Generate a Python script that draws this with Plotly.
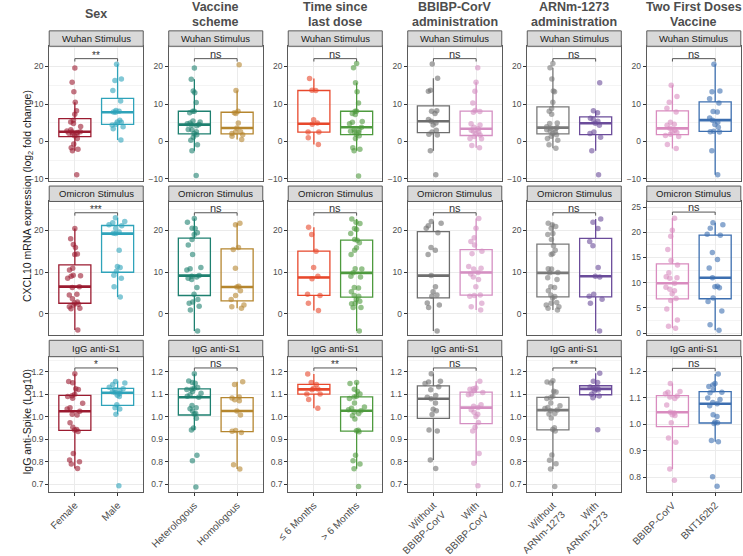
import numpy as np
import plotly.graph_objects as go

W, H = 743, 556

# ---------------- data ----------------
column_titles = [["Sex"], ["Vaccine", "scheme"], ["Time since", "last dose"],
                 ["BBIBP-CorV", "administration"], ["ARNm-1273", "administration"],
                 ["Two First Doses", "Vaccine"]]
group_labels = [["Female", "Male"], ["Heterologous", "Homologous"], ["≤ 6 Months", "> 6 Months"],
                ["Without<br>BBIBP-CorV", "With<br>BBIBP-CorV"],
                ["Without<br>ARNm-1273", "With<br>ARNm-1273"], ["BBIBP-CorV", "BNT162b2"]]
group_colors = [["#9B1B30", "#2FA3BA"], ["#1E8070", "#B5862F"], ["#E8482C", "#4E9A3E"],
                ["#6E6E6E", "#D48FC2"], ["#7A7A7A", "#6B4C9A"], ["#D98CBF", "#3D6FB0"]]
strip_labels = ["Wuhan Stimulus", "Omicron Stimulus", "IgG anti-S1"]
signif = [["**", "***", "*"], ["ns", "ns", "ns"], ["ns", "ns", "**"],
          ["ns", "ns", "ns"], ["ns", "ns", "**"], ["ns", "ns", "ns"]]

# Sex
wuhan_female = [-8.9, -2.5, -2.1, -1.7, -0.7, 0.8, 1.5, 1.8, 2.0, 2.2, 2.4, 2.5, 2.6, 2.8, 3.1, 4.0, 4.8, 5.2, 5.7, 7.3, 8.2, 10.5, 13.3, 15.8, 19.6]
wuhan_male = [0.4, 3.4, 3.9, 4.4, 4.6, 5.1, 5.2, 5.7, 7.8, 7.9, 8.1, 8.3, 10.8, 13.6, 16.3, 16.7, 20.6]
omicron_female = [-3.9, 1.2, 1.3, 1.7, 2.1, 2.3, 2.6, 2.8, 3.6, 4.5, 4.7, 6.3, 6.5, 8.5, 9.0, 9.1, 9.2, 10.5, 10.9, 14.2, 14.3, 15.9, 16.6, 18.0, 20.4]
omicron_male = [4.0, 6.5, 8.5, 9.2, 10.2, 11.1, 11.3, 15.2, 19.2, 19.3, 19.6, 20.5, 21.1, 21.3, 21.8, 22.1, 23.0]
igg_female = [0.77, 0.79, 0.80, 0.807, 0.836, 0.934, 0.941, 0.943, 0.953, 0.973, 1.007, 1.01, 1.024, 1.034, 1.039, 1.059, 1.081, 1.089, 1.093, 1.099, 1.12, 1.124, 1.15, 1.156, 1.19]
igg_male = [0.693, 1.01, 1.034, 1.039, 1.053, 1.089, 1.095, 1.103, 1.106, 1.11, 1.115, 1.12, 1.124, 1.13, 1.143, 1.149, 1.156]

# Vaccine scheme
wuhan_hetero = [-9.1, -2.5, -0.9, 0.3, 1.1, 1.8, 2.1, 2.6, 3.1, 3.2, 4.2, 4.4, 4.5, 4.7, 4.9, 5.2, 5.5, 7.7, 8.05, 8.1, 10.4, 13.0, 13.5, 16.6, 19.6]
wuhan_homo = [0.5, 1.4, 1.8, 2.1, 2.5, 2.6, 3.6, 4.9, 7.5, 7.7, 8.1, 13.6, 20.5]
omicron_hetero = [-4.1, 0.9, 1.8, 2.5, 2.8, 3.4, 4.7, 6.3, 8.2, 8.5, 8.8, 9.0, 9.15, 10.5, 10.8, 11.1, 14.2, 16.5, 17.8, 19.0, 19.4, 20.4, 20.5, 21.9, 22.8]
omicron_homo = [1.3, 1.7, 2.1, 3.4, 4.4, 5.5, 6.4, 6.6, 10.9, 15.4, 15.9, 21.3, 21.7]
igg_hetero = [0.688, 0.804, 0.829, 0.941, 0.949, 0.993, 1.012, 1.014, 1.025, 1.035, 1.039, 1.049, 1.086, 1.09, 1.097, 1.104, 1.112, 1.12, 1.122, 1.126, 1.129, 1.148, 1.152, 1.158, 1.19]
igg_homo = [0.767, 0.786, 0.93, 0.935, 0.938, 1.007, 1.025, 1.07, 1.075, 1.083, 1.087, 1.143, 1.155]

# Time since last dose
wuhan_le6 = [-0.8, 1.0, 2.5, 2.5, 4.6, 4.9, 5.8, 13.6, 13.7, 16.8]
wuhan_gt6 = [-9.2, -2.5, -2.1, -1.7, 0.8, 1.5, 1.95, 2.4, 2.5, 2.7, 3.0, 3.2, 3.8, 4.7, 5.1, 5.3, 7.2, 7.5, 8.05, 8.1, 10.3, 13.3, 15.7, 19.7, 20.8]
omicron_le6 = [0.8, 2.5, 4.4, 4.7, 8.4, 9.0, 11.1, 15.0, 19.0, 20.7]
omicron_gt6 = [-4.1, 1.5, 1.5, 2.4, 2.5, 3.0, 3.4, 4.2, 4.4, 5.3, 6.2, 6.3, 8.8, 9.0, 9.8, 10.7, 10.8, 14.2, 15.2, 15.8, 17.0, 17.6, 17.8, 19.2, 20.2, 20.4, 21.6, 21.9, 22.7]
igg_le6 = [1.037, 1.076, 1.10, 1.10, 1.119, 1.123, 1.126, 1.143, 1.151, 1.189]
igg_gt6 = [0.69, 0.769, 0.79, 0.804, 0.829, 0.933, 0.937, 0.94, 0.99, 1.004, 1.014, 1.02, 1.026, 1.03, 1.037, 1.043, 1.061, 1.08, 1.087, 1.09, 1.10, 1.111, 1.121, 1.147, 1.151]

# BBIBP-CorV administration
wuhan_without_bbibp = [-8.9, -2.5, 1.7, 1.9, 2.5, 3.0, 4.4, 4.9, 5.4, 5.9, 7.5, 8.05, 8.2, 13.4, 13.7, 16.9, 20.7]
wuhan_with_bbibp = [-1.7, -1.1, 0.7, 0.8, 1.3, 1.7, 2.1, 2.5, 2.7, 3.0, 3.4, 3.8, 4.4, 4.7, 7.8, 8.0, 8.3, 10.3, 13.4, 15.8, 19.7]
omicron_without_bbibp = [-4.1, 1.5, 2.1, 2.6, 4.2, 4.5, 5.3, 6.5, 9.15, 14.2, 15.2, 15.9, 19.4, 20.5, 21.1, 21.7, 22.1]
omicron_with_bbibp = [0.9, 1.7, 2.5, 4.2, 4.4, 4.5, 6.5, 8.2, 8.8, 9.5, 9.9, 10.7, 10.9, 11.3, 14.4, 15.0, 16.5, 17.3, 18.2, 20.5, 22.8]
igg_without_bbibp = [0.77, 0.807, 0.936, 0.941, 1.009, 1.026, 1.033, 1.06, 1.079, 1.086, 1.094, 1.119, 1.133, 1.147, 1.154, 1.157, 1.19]
igg_with_bbibp = [0.693, 0.793, 0.836, 0.936, 0.953, 0.974, 1.0, 1.01, 1.019, 1.03, 1.04, 1.046, 1.053, 1.097, 1.10, 1.107, 1.115, 1.121, 1.124, 1.127, 1.157]

# ARNm-1273 administration
wuhan_without_arnm = [-1.8, -0.9, 0.3, 0.8, 1.4, 1.8, 2.1, 2.5, 2.8, 3.1, 3.3, 3.5, 3.7, 3.9, 4.8, 4.9, 7.3, 8.1, 8.8, 10.5, 13.3, 13.5, 16.7, 19.7, 20.8]
wuhan_with_arnm = [-8.9, -2.5, 1.1, 2.1, 2.5, 4.3, 4.85, 5.4, 5.9, 6.2, 7.7, 8.2, 15.7]
omicron_without_arnm = [0.9, 1.3, 1.7, 2.1, 2.5, 2.7, 3.8, 4.15, 4.5, 5.5, 6.3, 6.5, 8.2, 8.6, 9.8, 9.9, 10.7, 10.8, 14.2, 14.4, 15.2, 16.3, 17.8, 19.0, 19.2, 20.5, 20.9, 21.3, 21.7]
omicron_with_arnm = [-4.1, 2.5, 3.5, 4.2, 4.7, 8.8, 9.0, 11.1, 16.3, 17.3, 20.4, 21.9, 22.7]
igg_without_arnm = [0.69, 0.768, 0.791, 0.806, 0.83, 0.936, 0.943, 0.951, 0.994, 1.012, 1.014, 1.026, 1.029, 1.036, 1.041, 1.048, 1.06, 1.08, 1.084, 1.09, 1.109, 1.113, 1.149, 1.154, 1.159]
igg_with_arnm = [0.942, 1.084, 1.091, 1.099, 1.113, 1.118, 1.123, 1.125, 1.128, 1.132, 1.152, 1.157, 1.193]

# Two first doses vaccine
wuhan_bbibp = [-1.9, -0.8, 1.3, 1.6, 1.9, 2.4, 2.5, 3.0, 3.5, 4.3, 4.6, 5.1, 7.9, 8.9, 10.5, 12.0, 15.0]
wuhan_bnt = [-8.9, -2.5, 2.5, 2.6, 2.7, 3.8, 4.5, 5.1, 5.7, 6.3, 7.9, 8.0, 10.3, 11.4, 13.3, 13.5, 20.6]
omicron_bbibp = [1.0, 1.4, 2.6, 4.8, 6.5, 6.9, 7.8, 8.4, 8.7, 9.1, 9.9, 10.9, 11.0, 11.2, 12.0, 13.5, 14.4, 16.6, 19.2, 20.4, 22.8]
omicron_bnt = [0.6, 1.7, 4.4, 6.3, 7.0, 9.0, 9.2, 9.3, 11.0, 12.9, 14.6, 16.0, 19.4, 19.6, 20.8, 21.5, 21.9]
igg_bbibp = [0.789, 0.832, 0.933, 0.949, 1.006, 1.034, 1.037, 1.043, 1.046, 1.073, 1.098, 1.104, 1.107, 1.116, 1.122, 1.124, 1.155]
igg_bnt = [0.766, 0.802, 0.935, 0.939, 1.004, 1.006, 1.009, 1.03, 1.037, 1.071, 1.078, 1.083, 1.094, 1.10, 1.12, 1.122, 1.13, 1.143, 1.149, 1.155, 1.191]

# significance bracket heights (row, with special values for last column)
bracket_y = [22.1, 24.2, 1.216]
bracket_y_last = [22.1, 24.0, 1.212]

panels = [
    [(wuhan_female, wuhan_male), (omicron_female, omicron_male), (igg_female, igg_male)],
    [(wuhan_hetero, wuhan_homo), (omicron_hetero, omicron_homo), (igg_hetero, igg_homo)],
    [(wuhan_le6, wuhan_gt6), (omicron_le6, omicron_gt6), (igg_le6, igg_gt6)],
    [(wuhan_without_bbibp, wuhan_with_bbibp), (omicron_without_bbibp, omicron_with_bbibp), (igg_without_bbibp, igg_with_bbibp)],
    [(wuhan_without_arnm, wuhan_with_arnm), (omicron_without_arnm, omicron_with_arnm), (igg_without_arnm, igg_with_arnm)],
    [(wuhan_bbibp, wuhan_bnt), (omicron_bbibp, omicron_bnt), (igg_bbibp, igg_bnt)],
]

# ---------------- layout geometry ----------------
FONT = "Liberation Sans, Arial, sans-serif"
panel_left = [31 + 122.65 * c for c in range(6)]
panel_w = 96.5
row_top = [48, 209, 370]
row_bot = [188, 348, 510]
strip_top = [32, 193, 353]
BORDER = "#5a5a5a"
GRID = "#ebebeb"
MINOR = "#f4f4f4"
TXT = "#4d4d4d"


def py(p):
    return 1 - p / H


yrange_rows = [[-10.6, 25.4], [-5.2, 26.9], [0.667, 1.266]]
yrange_last = [[-10.6, 25.4], [-0.45, 26.1], [0.746, 1.256]]
dtick_rows = [10, 10, 0.1]
dtick_last = [10, 5, 0.1]
minor_rows = [5, 5, 0.05]
minor_last = [5, 2.5, 0.05]

fig = go.Figure()
layout = dict(width=W, height=H, margin=dict(l=0, r=0, t=0, b=0),
              paper_bgcolor="white", plot_bgcolor="white", showlegend=False,
              font=dict(family=FONT, color=TXT), boxmode="overlay")
shapes = []
annotations = []

BOX_W = 0.75
for r in range(3):
    for c in range(6):
        k = r * 6 + c + 1
        xa = "x" if k == 1 else f"x{k}"
        ya = "y" if k == 1 else f"y{k}"
        last = c == 5
        yr = yrange_last[r] if last else yrange_rows[r]
        for g in range(2):
            vals = panels[c][r][g]
            col = group_colors[c][g]
            fig.add_trace(go.Box(
                x=[g] * len(vals), y=vals, xaxis=xa, yaxis=ya, width=BOX_W,
                boxpoints="all", jitter=0.55, pointpos=0, whiskerwidth=0,
                quartilemethod="linear",
                fillcolor="rgba(255,255,255,0)",
                line=dict(color=col, width=1.3),
                marker=dict(color=col, size=5.5, opacity=0.6, line=dict(width=0)),
                hoverinfo="skip"))
            med = float(np.median(vals))
            shapes.append(dict(type="line", xref=xa, yref=ya, x0=g - BOX_W / 2, x1=g + BOX_W / 2,
                               y0=med, y1=med, line=dict(color=col, width=2.6), layer="between"))
        # significance bracket
        by = bracket_y_last[r] if last else bracket_y[r]
        drop = 3.0 / (row_bot[r] - row_top[r]) * (yr[1] - yr[0])
        fig.add_trace(go.Scatter(x=[0, 0, 1, 1], y=[by - drop, by, by, by - drop], xaxis=xa, yaxis=ya,
                                 mode="lines", line=dict(color="#555555", width=1), hoverinfo="skip"))
        lab = signif[c][r]
        annotations.append(dict(xref=xa, yref=ya, x=0.5, y=by, text=lab, showarrow=False,
                                yanchor="bottom", yshift=-3 if lab == "ns" else -4,
                                font=dict(size=11 if lab == "ns" else 10, color="#333333")))

        left = panel_left[c]
        xd = [left / W, (left + panel_w) / W]
        yd = [py(row_bot[r]), py(row_top[r])]
        xkey = "xaxis" if k == 1 else f"xaxis{k}"
        ykey = "yaxis" if k == 1 else f"yaxis{k}"
        layout[xkey] = dict(domain=xd, anchor=ya, range=[-0.6, 1.6], tickvals=[0, 1],
                            ticktext=group_labels[c], showticklabels=(r == 2),
                            ticks="outside" if r == 2 else "", ticklen=3, tickcolor="#333333",
                            tickangle=-45, tickfont=dict(size=10, color=TXT),
                            showgrid=True, gridcolor=GRID, gridwidth=1, zeroline=False,
                            showline=True, mirror=True, linecolor=BORDER, linewidth=1,
                            fixedrange=True)
        dt = dtick_last[r] if last else dtick_rows[r]
        mdt = minor_last[r] if last else minor_rows[r]
        layout[ykey] = dict(domain=yd, anchor=xa, range=yr, dtick=dt, tick0=0,
                            tickformat=".1f" if r == 2 else "d",
                            ticks="outside", ticklen=3, tickcolor="#333333",
                            tickfont=dict(size=8.5, color=TXT),
                            showgrid=True, gridcolor=GRID, gridwidth=1, zeroline=False,
                            minor=dict(dtick=mdt, tick0=0, showgrid=True, gridcolor=MINOR, gridwidth=0.7),
                            showline=True, mirror=True, linecolor=BORDER, linewidth=1,
                            fixedrange=True)
        # strip
        shapes.append(dict(type="rect", xref="paper", yref="paper", x0=xd[0], x1=xd[1],
                           y0=py(row_top[r]), y1=py(strip_top[r]), fillcolor="#d9d9d9",
                           line=dict(color=BORDER, width=1), layer="above"))
        annotations.append(dict(xref="paper", yref="paper", x=(xd[0] + xd[1]) / 2,
                                y=py((row_top[r] + strip_top[r]) / 2), text=strip_labels[r],
                                showarrow=False, xanchor="center", yanchor="middle",
                                font=dict(size=9.5, color="#1a1a1a")))

# column titles
for c in range(6):
    cx = (panel_left[c] + panel_w / 2) / W
    lines = column_titles[c]
    ys = [14.5] if len(lines) == 1 else [7.5, 22.5]
    for t, yy in zip(lines, ys):
        annotations.append(dict(xref="paper", yref="paper", x=cx, y=py(yy), text=t, showarrow=False,
                                xanchor="center", yanchor="middle",
                                font=dict(size=12.5, color="#4d4d4d", weight="bold")))

# y-axis titles
annotations.append(dict(xref="paper", yref="paper", x=8.5 / W, y=py(203),
                        text="CXCL10 mRNA expression (log<sub>2</sub> fold change)",
                        textangle=-90, showarrow=False, xanchor="center", yanchor="middle",
                        font=dict(size=10.5, color="#1a1a1a")))
annotations.append(dict(xref="paper", yref="paper", x=8.5 / W, y=py(437),
                        text="IgG anti-Spike (Log10)",
                        textangle=-90, showarrow=False, xanchor="center", yanchor="middle",
                        font=dict(size=10.5, color="#1a1a1a")))

layout["shapes"] = shapes
layout["annotations"] = annotations
fig.update_layout(**layout)
fig.write_html("out.html")
